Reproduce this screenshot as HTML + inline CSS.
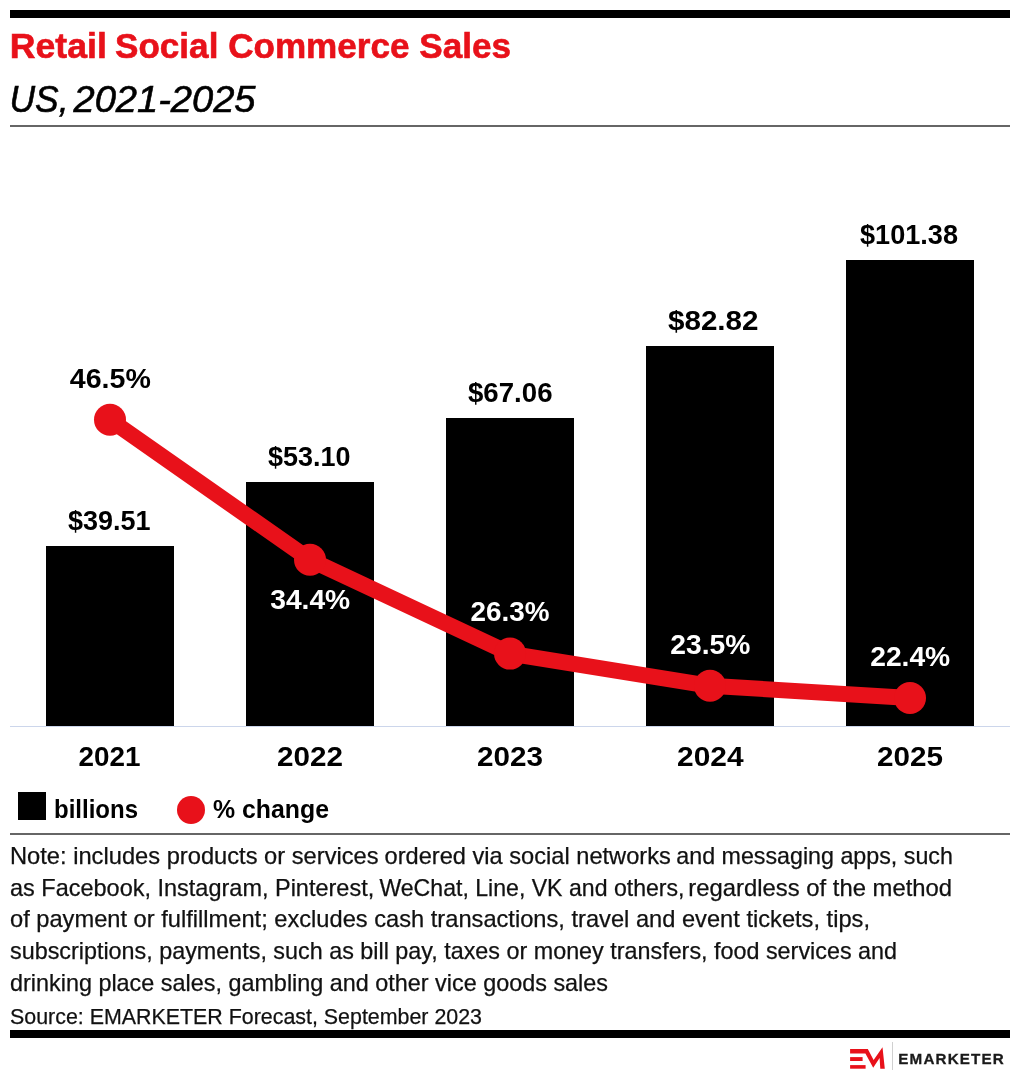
<!DOCTYPE html>
<html lang="en">
<head>
<meta charset="utf-8">
<title>Retail Social Commerce Sales</title>
<style>
html,body{margin:0;padding:0;background:#fff;}
body{width:1020px;height:1080px;overflow:hidden;font-family:"Liberation Sans",sans-serif;}
svg{display:block;}
text{font-family:"Liberation Sans",sans-serif;}
.b{font-weight:bold;}
.lbl{font-weight:bold;font-size:28px;}
.note{font-size:23.2px;fill:#111;stroke:#111;stroke-width:0.25px;}
</style>
</head>
<body>
<svg width="1020" height="1080" viewBox="0 0 1020 1080">
<rect x="0" y="0" width="1020" height="1080" fill="#ffffff"/>
<!-- header -->
<rect x="10" y="10" width="1000" height="8" fill="#000"/>
<text y="57.5" class="b" font-size="34.5" fill="#e8111a" stroke="#e8111a" stroke-width="0.6"><tspan x="9.8" textLength="97" lengthAdjust="spacingAndGlyphs">Retail</tspan> <tspan x="115" textLength="396" lengthAdjust="spacingAndGlyphs">Social Commerce Sales</tspan></text>
<text y="112" font-style="italic" font-size="36.5" fill="#000" stroke="#000" stroke-width="0.6"><tspan x="9.5" textLength="59" lengthAdjust="spacingAndGlyphs">US,</tspan> <tspan x="73.5" textLength="182" lengthAdjust="spacingAndGlyphs">2021-2025</tspan></text>
<rect x="10" y="125" width="1000" height="2" fill="#666"/>

<!-- bars -->
<g fill="#000">
<rect x="46" y="546" width="128" height="180"/>
<rect x="246" y="482" width="128" height="244"/>
<rect x="446" y="418" width="128" height="308"/>
<rect x="646" y="346" width="128" height="380"/>
<rect x="846" y="260" width="128" height="466"/>
</g>
<rect x="10" y="726" width="1000" height="1" fill="#ccd6eb"/>

<!-- bar labels -->
<g class="lbl" fill="#000">
<text x="68" y="530" textLength="82.5" lengthAdjust="spacingAndGlyphs">$39.51</text>
<text x="268" y="466" textLength="82.5" lengthAdjust="spacingAndGlyphs">$53.10</text>
<text x="468" y="402" textLength="84.5" lengthAdjust="spacingAndGlyphs">$67.06</text>
<text x="668" y="330" textLength="90.5" lengthAdjust="spacingAndGlyphs">$82.82</text>
<text x="860" y="244" textLength="98" lengthAdjust="spacingAndGlyphs">$101.38</text>
</g>

<!-- line -->
<polyline points="110,419.8 310,559.8 510,653.6 710,685.8 910,698" fill="none" stroke="#e8111a" stroke-width="16" stroke-linejoin="round" stroke-linecap="round"/>
<g fill="#e8111a">
<circle cx="110" cy="419.8" r="16"/>
<circle cx="310" cy="559.8" r="16"/>
<circle cx="510" cy="653.6" r="16"/>
<circle cx="710" cy="685.8" r="16"/>
<circle cx="910" cy="698" r="16"/>
</g>

<!-- line labels -->
<g class="lbl" text-anchor="middle">
<text x="110.3" y="388" fill="#000" textLength="81" lengthAdjust="spacingAndGlyphs">46.5%</text>
<text x="310.2" y="609" fill="#fff" textLength="80" lengthAdjust="spacingAndGlyphs">34.4%</text>
<text x="510" y="621" fill="#fff" textLength="79" lengthAdjust="spacingAndGlyphs">26.3%</text>
<text x="710.3" y="654" fill="#fff" textLength="80" lengthAdjust="spacingAndGlyphs">23.5%</text>
<text x="910.2" y="666" fill="#fff" textLength="80" lengthAdjust="spacingAndGlyphs">22.4%</text>
</g>

<!-- axis labels -->
<g class="lbl" fill="#000" text-anchor="middle">
<text x="109.6" y="766" textLength="62" lengthAdjust="spacingAndGlyphs">2021</text>
<text x="310" y="766" textLength="66" lengthAdjust="spacingAndGlyphs">2022</text>
<text x="510" y="766" textLength="66" lengthAdjust="spacingAndGlyphs">2023</text>
<text x="710.3" y="766" textLength="66.5" lengthAdjust="spacingAndGlyphs">2024</text>
<text x="910" y="766" textLength="66" lengthAdjust="spacingAndGlyphs">2025</text>
</g>

<!-- legend -->
<rect x="18" y="792" width="28" height="28" fill="#000"/>
<text x="54" y="818" class="b" font-size="26" fill="#000" textLength="84" lengthAdjust="spacingAndGlyphs">billions</text>
<circle cx="191" cy="810" r="14" fill="#e8111a"/>
<text x="213" y="818" class="b" font-size="26" fill="#000" textLength="116" lengthAdjust="spacingAndGlyphs">% change</text>
<rect x="10" y="833" width="1000" height="2" fill="#666"/>

<!-- notes -->
<g class="note">
<text y="863.6"><tspan x="10" textLength="368.6" lengthAdjust="spacingAndGlyphs">Note: includes products or services</tspan> <tspan x="384.5" textLength="286.3" lengthAdjust="spacingAndGlyphs">ordered via social networks</tspan> <tspan x="676.3" textLength="276.6" lengthAdjust="spacingAndGlyphs">and messaging apps, such</tspan></text>
<text y="895.5"><tspan x="10" textLength="364.2" lengthAdjust="spacingAndGlyphs">as Facebook, Instagram, Pinterest,</tspan> <tspan x="379.4" textLength="305.1" lengthAdjust="spacingAndGlyphs">WeChat, Line, VK and others,</tspan> <tspan x="688.3" textLength="263.8" lengthAdjust="spacingAndGlyphs">regardless of the method</tspan></text>
<text x="10" y="927.4" textLength="860" lengthAdjust="spacingAndGlyphs">of payment or fulfillment; excludes cash transactions, travel and event tickets, tips,</text>
<text x="10" y="959.4" textLength="887" lengthAdjust="spacingAndGlyphs">subscriptions, payments, such as bill pay, taxes or money transfers, food services and</text>
<text x="10" y="991.4" textLength="598" lengthAdjust="spacingAndGlyphs">drinking place sales, gambling and other vice goods sales</text>
<text x="10" y="1023.7" font-size="21.5" textLength="472" lengthAdjust="spacingAndGlyphs">Source: EMARKETER Forecast, September 2023</text>
</g>

<!-- footer -->
<rect x="10" y="1030" width="1000" height="8" fill="#000"/>
<g fill="#e8111a">
<polygon points="850.1,1049.1 867.8,1049.1 873.6,1060.1 882.5,1047.2 884.8,1068.7 880.3,1068.7 879.6,1058 873.2,1067.7 865.4,1053.4 850.1,1053.4"/>
<rect x="850.1" y="1057.1" width="12.5" height="3.9"/>
<rect x="850.1" y="1065.1" width="15.5" height="3.6"/>
</g>
<rect x="892" y="1042" width="1" height="28" fill="#d0d0d0"/>
<text x="898.3" y="1063.9" class="b" font-size="15.2" fill="#1a1a1a" stroke="#1a1a1a" stroke-width="0.3" textLength="105.5" lengthAdjust="spacing">EMARKETER</text>
</svg>
</body>
</html>
